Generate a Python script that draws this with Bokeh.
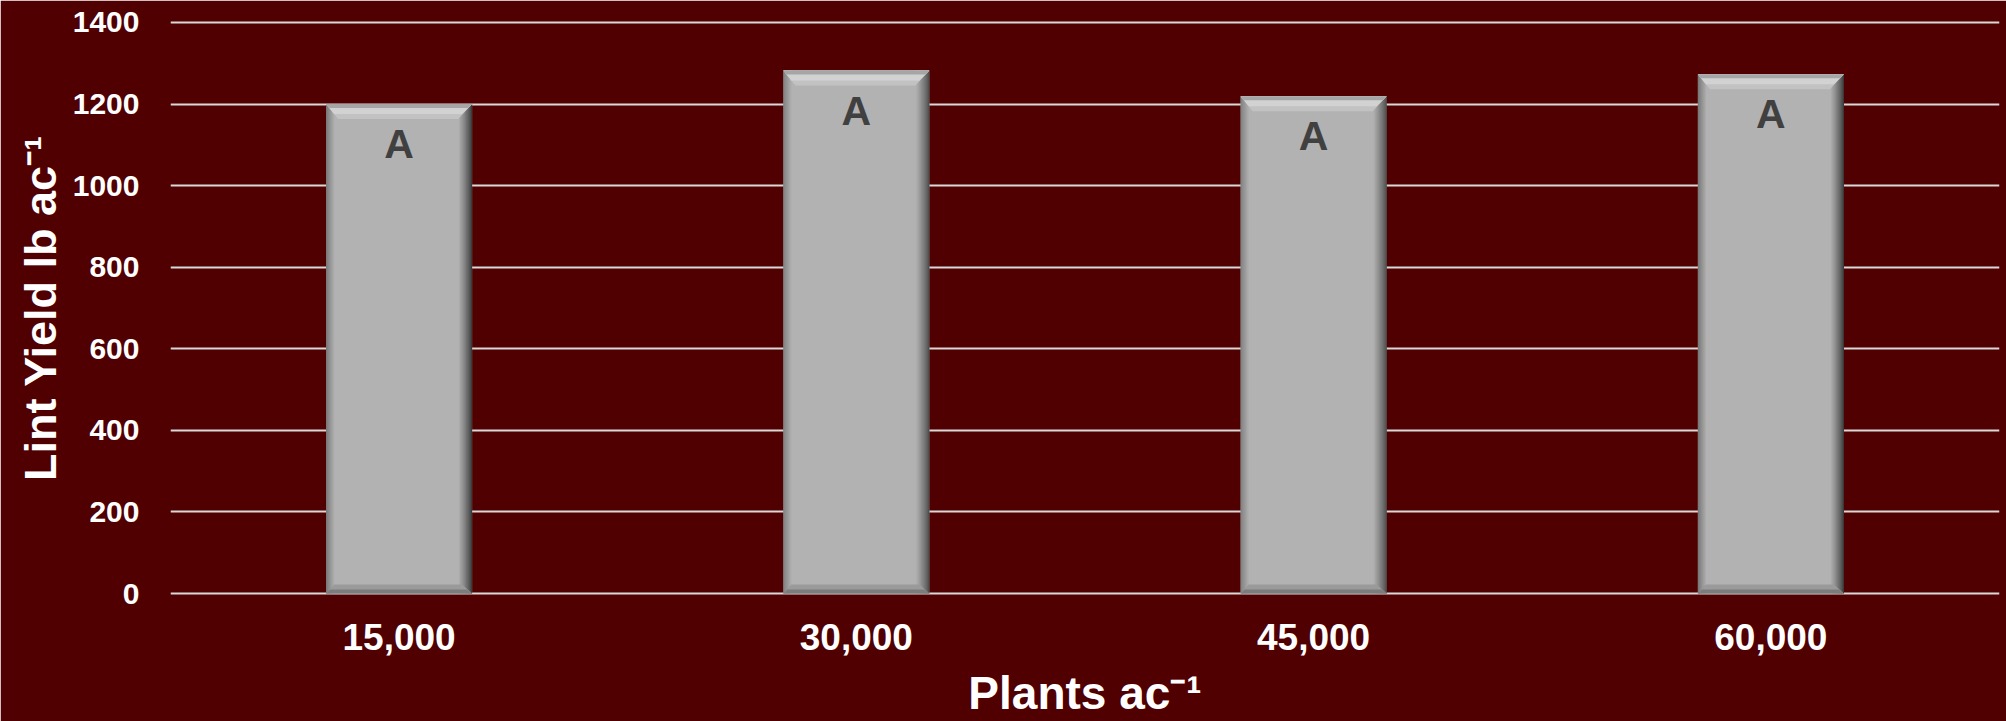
from bokeh.plotting import figure
from bokeh.models import Range1d, FixedTicker
from bokeh.embed import file_html
from bokeh.resources import INLINE
from bokeh.core.properties import value

# ---- data ----
categories = ["15,000", "30,000", "45,000", "60,000"]
lint_yield = [1200, 1282, 1219, 1273]
letters = ["A", "A", "A", "A"]
y_ticks = [0, 200, 400, 600, 800, 1000, 1200, 1400]
x_title = "Plants ac\u207b\u00b9"
y_title = "Lint Yield lb ac\u207b\u00b9"

# ---- layout ----
W, H = 2006, 721
PAD = 4                      # px of frame beyond 0 and 1400
BL, BR, BT, BB = 170, 7, 22 - PAD, 127 - PAD
FW = W - BL - BR
FH = H - BT - BB
YMAX = 1400
BG = "#500000"
FONT = "Liberation Sans"

n = len(categories)
ux = n / FW                  # data units per px (x)
uy = YMAX / (FH - 2 * PAD)   # data units per px (y)

p = figure(width=W, height=H, x_range=Range1d(0, n),
           y_range=Range1d(-PAD * uy, YMAX + PAD * uy),
           output_backend="svg", toolbar_location=None, title_location=None,
           min_border_left=BL, min_border_right=BR, min_border_top=BT, min_border_bottom=BB)
p.background_fill_color = BG
p.border_fill_color = BG
p.outline_line_color = BG
p.outline_line_width = 3

p.xgrid.visible = False
p.ygrid.grid_line_color = "#d9d9d9"
p.ygrid.grid_line_width = 2

p.yaxis.ticker = FixedTicker(ticks=y_ticks)
p.yaxis.axis_line_color = None
p.yaxis.major_tick_line_color = None
p.yaxis.minor_tick_line_color = None
p.yaxis.major_label_standoff = 25
p.yaxis.major_label_text_font = FONT
p.yaxis.major_label_text_font_style = "bold"
p.yaxis.major_label_text_font_size = "30px"
p.yaxis.major_label_text_color = "white"
p.yaxis.axis_label = y_title
p.yaxis.axis_label_standoff = 4
p.yaxis.axis_label_text_font = FONT
p.yaxis.axis_label_text_font_style = "bold"
p.yaxis.axis_label_text_font_size = "45px"
p.yaxis.axis_label_text_color = "white"

centers = [i + 0.5 for i in range(n)]
p.xaxis.ticker = FixedTicker(ticks=centers)
p.xaxis.major_label_overrides = {c: lab for c, lab in zip(centers, categories)}
p.xaxis.axis_line_color = None
p.xaxis.major_tick_line_color = None
p.xaxis.minor_tick_line_color = None
p.xaxis.major_label_standoff = 20
p.xaxis.major_label_text_font = FONT
p.xaxis.major_label_text_font_style = "bold"
p.xaxis.major_label_text_font_size = "37px"
p.xaxis.major_label_text_color = "white"
p.xaxis.axis_label = x_title
p.xaxis.axis_label_standoff = 14
p.xaxis.axis_label_text_font = FONT
p.xaxis.axis_label_text_font_style = "bold"
p.xaxis.axis_label_text_font_size = "46px"
p.xaxis.axis_label_text_color = "white"

# ---- bevelled bars ----
bar_w = 146 * ux
lefts = [c - bar_w / 2 for c in centers]
rights = [c + bar_w / 2 for c in centers]
zeros = [0] * n


def lerp(c1, c2, t):
    a = [int(c1[i:i + 2], 16) for i in (1, 3, 5)]
    b = [int(c2[i:i + 2], 16) for i in (1, 3, 5)]
    return "#%02x%02x%02x" % tuple(round(a[k] + (b[k] - a[k]) * t) for k in range(3))


BASE = "#b2b2b2"
p.quad(left=lefts, right=rights, bottom=zeros, top=lint_yield, fill_color=BASE, line_color=None)
# right dark edge
NR = 13
for k in range(NR):
    col = lerp("#2c2c2c", BASE, (k / NR) ** 0.8)
    p.quad(left=[r - (k + 1) * ux for r in rights], right=[r - k * ux for r in rights],
           bottom=zeros, top=lint_yield, fill_color=col, line_color=None)
# left softer edge
NL = 8
for k in range(NL):
    col = lerp("#747474", BASE, k / NL)
    p.quad(left=[l + k * ux for l in lefts], right=[l + (k + 1) * ux for l in lefts],
           bottom=zeros, top=lint_yield, fill_color=col, line_color=None)


def trap(depth_px, inset_l, inset_r, top_side=True):
    xs, ys = [], []
    for l, r, v in zip(lefts, rights, lint_yield):
        if top_side:
            y0, y1 = v, v - depth_px * uy
        else:
            y0, y1 = 0, depth_px * uy
        xs.append([l, r, r - inset_r * ux, l + inset_l * ux])
        ys.append([y0, y0, y1, y1])
    return xs, ys


xs, ys = trap(15, 12, 14)
p.patches(xs, ys, fill_color="#c2c2c2", line_color=None)
xs, ys = trap(10, 8, 10)
p.patches(xs, ys, fill_color="#d2d2d2", line_color=None)
xs, ys = trap(4, 3, 4)
p.patches(xs, ys, fill_color="#a6a6a6", line_color=None)
xs, ys = trap(9, 8, 10, top_side=False)
p.patches(xs, ys, fill_color="#9a9a9a", line_color=None)
xs, ys = trap(4, 4, 5, top_side=False)
p.patches(xs, ys, fill_color="#7c7c7c", line_color=None)

# ---- significance letters ----
letter_y = [v - 40 * uy for v in lint_yield]
p.text(x=centers, y=letter_y, text=letters, text_align="center", text_baseline="alphabetic",
       text_font=value(FONT), text_font_style="bold", text_font_size="41px", text_color="#404040")

open("out.html", "w").write(file_html(p, INLINE))
